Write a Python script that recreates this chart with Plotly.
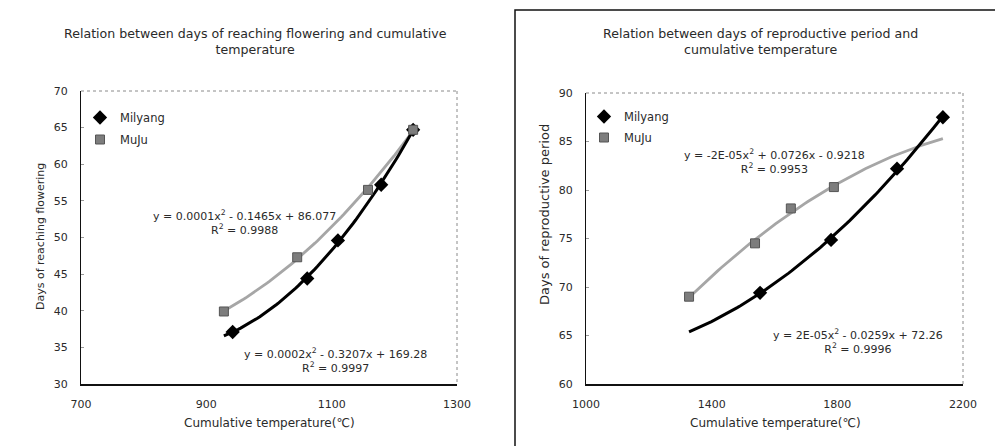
import numpy as np
import plotly.graph_objects as go

W, H = 995, 446

# ---------------- data ----------------
# Left chart: days of reaching flowering vs cumulative temperature
flw_milyang_x = [942, 1061, 1110, 1179, 1230]
flw_milyang_y = [37.1, 44.4, 49.6, 57.2, 64.7]
flw_muju_x = [928, 1045, 1158, 1230]
flw_muju_y = [39.9, 47.3, 56.5, 64.7]

# Right chart: days of reproductive period vs cumulative temperature
rep_milyang_x = [1554, 1780, 1990, 2136]
rep_milyang_y = [69.4, 74.85, 82.2, 87.5]
rep_muju_x = [1328, 1538, 1652, 1789]
rep_muju_y = [69.0, 74.5, 78.1, 80.3]

series_names = ["Milyang", "MuJu"]
eq_flw_muju = "y = 0.0001x<sup>2</sup> - 0.1465x + 86.077<br>R<sup>2</sup> = 0.9988"
eq_flw_milyang = "y = 0.0002x<sup>2</sup> - 0.3207x + 169.28<br>R<sup>2</sup> = 0.9997"
eq_rep_muju = "y = -2E-05x<sup>2</sup> + 0.0726x - 0.9218<br>R<sup>2</sup> = 0.9953"
eq_rep_milyang = "y = 2E-05x<sup>2</sup> - 0.0259x + 72.26<br>R<sup>2</sup> = 0.9996"

title_left = "Relation between days of reaching flowering and cumulative<br>temperature"
title_right = "Relation between days of reproductive period and<br>cumulative temperature"
xtitle = "Cumulative temperature(℃)"
ytitle_left = "Days of reaching flowering"
ytitle_right = "Days of reproductive period"

FONT = "DejaVu Sans, Liberation Sans, sans-serif"
TXT = "#2a2a2a"
GRAY_LINE = "#a6a6a6"
GRAY_MK = "#7d7d7d"


def px(x):
    return x / W


def py(y):
    return 1 - y / H


def trend(xs, ys, lo, hi):
    c = np.polyfit(xs, ys, 2)
    xx = np.linspace(lo, hi, 80)
    return xx, np.polyval(c, xx)


fig = go.Figure()

# ---------------- left chart ----------------
lo = min(flw_milyang_x + flw_muju_x)
hi = max(flw_milyang_x + flw_muju_x)
tx, ty = trend(flw_muju_x, flw_muju_y, lo, hi)
fig.add_trace(go.Scatter(x=tx, y=ty, mode="lines", line=dict(color=GRAY_LINE, width=2.8),
                         showlegend=False, hoverinfo="skip", xaxis="x", yaxis="y"))
tx, ty = trend(flw_milyang_x, flw_milyang_y, lo, hi)
fig.add_trace(go.Scatter(x=tx, y=ty, mode="lines", line=dict(color="black", width=3),
                         showlegend=False, hoverinfo="skip", xaxis="x", yaxis="y"))
fig.add_trace(go.Scatter(x=flw_milyang_x, y=flw_milyang_y, mode="markers", name=series_names[0],
                         marker=dict(symbol="diamond", size=11, color="black"),
                         xaxis="x", yaxis="y", legend="legend", legendgroup="a"))
fig.add_trace(go.Scatter(x=flw_muju_x, y=flw_muju_y, mode="markers", name=series_names[1],
                         marker=dict(symbol="square", size=9, color=GRAY_MK,
                                     line=dict(color="#555", width=1)),
                         xaxis="x", yaxis="y", legend="legend", legendgroup="b"))

# ---------------- right chart ----------------
lo = min(rep_milyang_x + rep_muju_x)
hi = max(rep_milyang_x + rep_muju_x)
tx, ty = trend(rep_muju_x, rep_muju_y, lo, hi)
fig.add_trace(go.Scatter(x=tx, y=ty, mode="lines", line=dict(color=GRAY_LINE, width=2.8),
                         showlegend=False, hoverinfo="skip", xaxis="x2", yaxis="y2"))
tx, ty = trend(rep_milyang_x, rep_milyang_y, lo, hi)
fig.add_trace(go.Scatter(x=tx, y=ty, mode="lines", line=dict(color="black", width=3),
                         showlegend=False, hoverinfo="skip", xaxis="x2", yaxis="y2"))
fig.add_trace(go.Scatter(x=rep_milyang_x, y=rep_milyang_y, mode="markers", name=series_names[0],
                         marker=dict(symbol="diamond", size=11, color="black"),
                         xaxis="x2", yaxis="y2", legend="legend2", legendgroup="c"))
fig.add_trace(go.Scatter(x=rep_muju_x, y=rep_muju_y, mode="markers", name=series_names[1],
                         marker=dict(symbol="square", size=9, color=GRAY_MK,
                                     line=dict(color="#555", width=1)),
                         xaxis="x2", yaxis="y2", legend="legend2", legendgroup="d"))

# plot areas in pixels
L = dict(x0=81, x1=457, y0=91, y1=384)
R = dict(x0=586, x1=963, y0=93, y1=384)

axis_common = dict(showgrid=False, zeroline=False, showline=True, linecolor="#111",
                   tickfont=dict(family=FONT, size=11, color=TXT), fixedrange=True,
                   automargin=False)

fig.update_layout(
    width=W, height=H, margin=dict(l=0, r=0, t=0, b=0),
    paper_bgcolor="white", plot_bgcolor="white",
    xaxis=dict(domain=[px(L["x0"]), px(L["x1"])], range=[700, 1300], tickvals=[700, 900, 1100, 1300],
               ticks="", ticklabelstandoff=9, anchor="y", linewidth=1.5, **axis_common),
    yaxis=dict(domain=[py(L["y1"]), py(L["y0"])], range=[30, 70], dtick=5,
               ticks="inside", ticklen=3, tickcolor="#999", ticklabelstandoff=10,
               anchor="x", linewidth=1.2, **axis_common),
    xaxis2=dict(domain=[px(R["x0"]), px(R["x1"])], range=[1000, 2200], tickvals=[1000, 1400, 1800, 2200],
                ticks="", ticklabelstandoff=9, anchor="y2", linewidth=1.5, **axis_common),
    yaxis2=dict(domain=[py(R["y1"]), py(R["y0"])], range=[60, 90], dtick=5,
                ticks="inside", ticklen=3, tickcolor="#999", ticklabelstandoff=10,
                anchor="x2", linewidth=1.2, **axis_common),
    legend=dict(x=px(80), y=py(103), xanchor="left", yanchor="top", bgcolor="rgba(0,0,0,0)",
                font=dict(family=FONT, size=11.5, color=TXT), tracegroupgap=3, itemwidth=30),
    legend2=dict(x=px(584), y=py(102), xanchor="left", yanchor="top", bgcolor="rgba(0,0,0,0)",
                 font=dict(family=FONT, size=11.5, color=TXT), tracegroupgap=2, itemwidth=30),
    showlegend=True,
)

ann = []


def add_text(text, x, y, size=11, angle=0):
    ann.append(dict(text=text, x=px(x), y=py(y), xref="paper", yref="paper",
                    showarrow=False, xanchor="center", yanchor="middle", textangle=angle,
                    font=dict(family=FONT, size=size, color=TXT)))


add_text(title_left, 255, 41, size=12.6)
add_text(title_right, 760, 41, size=12.6)
add_text(xtitle, 269, 423, size=12)
add_text(xtitle, 775, 423, size=12)
add_text(ytitle_left, 40, 237, size=11, angle=-90)
add_text(ytitle_right, 545, 215, size=13, angle=-90)
add_text(eq_flw_muju, 244, 222)
add_text(eq_flw_milyang, 335, 360)
add_text(eq_rep_muju, 774, 161)
add_text(eq_rep_milyang, 858, 341)
fig.update_layout(annotations=ann)

shapes = []
for P in (L, R):
    # dotted top and right plot-area border
    shapes.append(dict(type="line", xref="paper", yref="paper", x0=px(P["x0"]), x1=px(P["x1"]),
                       y0=py(P["y0"]), y1=py(P["y0"]), line=dict(color="#8a8a8a", width=1, dash="dot")))
    shapes.append(dict(type="line", xref="paper", yref="paper", x0=px(P["x1"]), x1=px(P["x1"]),
                       y0=py(P["y0"]), y1=py(P["y1"]), line=dict(color="#8a8a8a", width=1, dash="dot")))
# frame around the right panel
shapes.append(dict(type="rect", xref="paper", yref="paper", x0=px(515), x1=px(1000),
                   y0=py(450), y1=py(10), line=dict(color="#111", width=1.5)))
fig.update_layout(shapes=shapes)

fig.write_html("out.html",
               post_script="document.body.style.margin='0';document.body.style.overflow='hidden';")
